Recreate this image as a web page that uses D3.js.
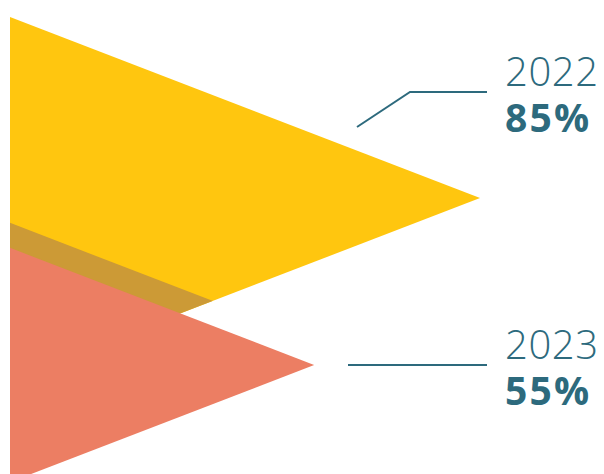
<!DOCTYPE html>
<html>
<head>
<meta charset="utf-8">
<script src="https://cdn.jsdelivr.net/npm/d3@7"></script>
<style>
  html, body { margin: 0; padding: 0; background: #fff; }
  svg { display: block; }
  .year { font-family: "Open Sans", sans-serif; font-weight: 300; fill: #2D6A7D; letter-spacing: 0.6px; }
  .pct  { font-family: "Open Sans", sans-serif; font-weight: 700; fill: #2D6A7D; letter-spacing: 2.2px; }
</style>
</head>
<body>
<svg id="chart" width="604" height="474"></svg>
<script>
// Share of respondents by year
const years  = ["2022", "2023"];
const values = [85, 55];
const labels = ["85%", "55%"];
const fills  = ["#FFC60F", "#EC7E63"];

const W = 604, H = 474;
const originX = 10;
const svg = d3.select("#chart");

// Triangle length (pointing right) and height both scale with the value
const len = d3.scaleLinear().domain([0, 100]).range([0, 553]);
const tall = d3.scaleLinear().domain([0, 100]).range([0, 426]);
// Vertical centre of each triangle
const centreY = [198, 365];

const tri = (v, cy, dy = 0) => [
  [originX, cy - tall(v) / 2 + dy],
  [originX + len(v), cy + dy],
  [originX, cy + tall(v) / 2 + dy]
];
const line = d3.line();

// Clip path equal to the first triangle, for the shadow of the second one
svg.append("defs").append("clipPath").attr("id", "clipFirst")
  .append("path").attr("d", line(tri(values[0], centreY[0])) + "Z");

// First (back) triangle
svg.append("path")
  .attr("d", line(tri(values[0], centreY[0])) + "Z")
  .attr("fill", fills[0]);

// Shadow cast by the second triangle onto the first
svg.append("path")
  .attr("d", line(tri(values[1], centreY[1], -25)) + "Z")
  .attr("fill", "#CC9A36")
  .attr("clip-path", "url(#clipFirst)");

// Second (front) triangle
svg.append("path")
  .attr("d", line(tri(values[1], centreY[1])) + "Z")
  .attr("fill", fills[1]);

// Leader lines
const leaders = [
  [[357, 127], [410, 92], [487, 92]],
  [[348, 365], [487, 365]]
];
leaders.forEach(pts => {
  svg.append("path")
    .attr("d", line(pts))
    .attr("fill", "none")
    .attr("stroke", "#2D6A7D")
    .attr("stroke-width", 2);
});

// Labels
const labelY = [86, 359];
years.forEach((y, i) => {
  svg.append("text").attr("class", "year")
    .attr("x", 505).attr("y", labelY[i])
    .attr("font-size", 40)
    .text(y);
  svg.append("text").attr("class", "pct")
    .attr("x", 505).attr("y", labelY[i] + 46)
    .attr("font-size", 39)
    .text(labels[i]);
});
</script>
</body>
</html>
